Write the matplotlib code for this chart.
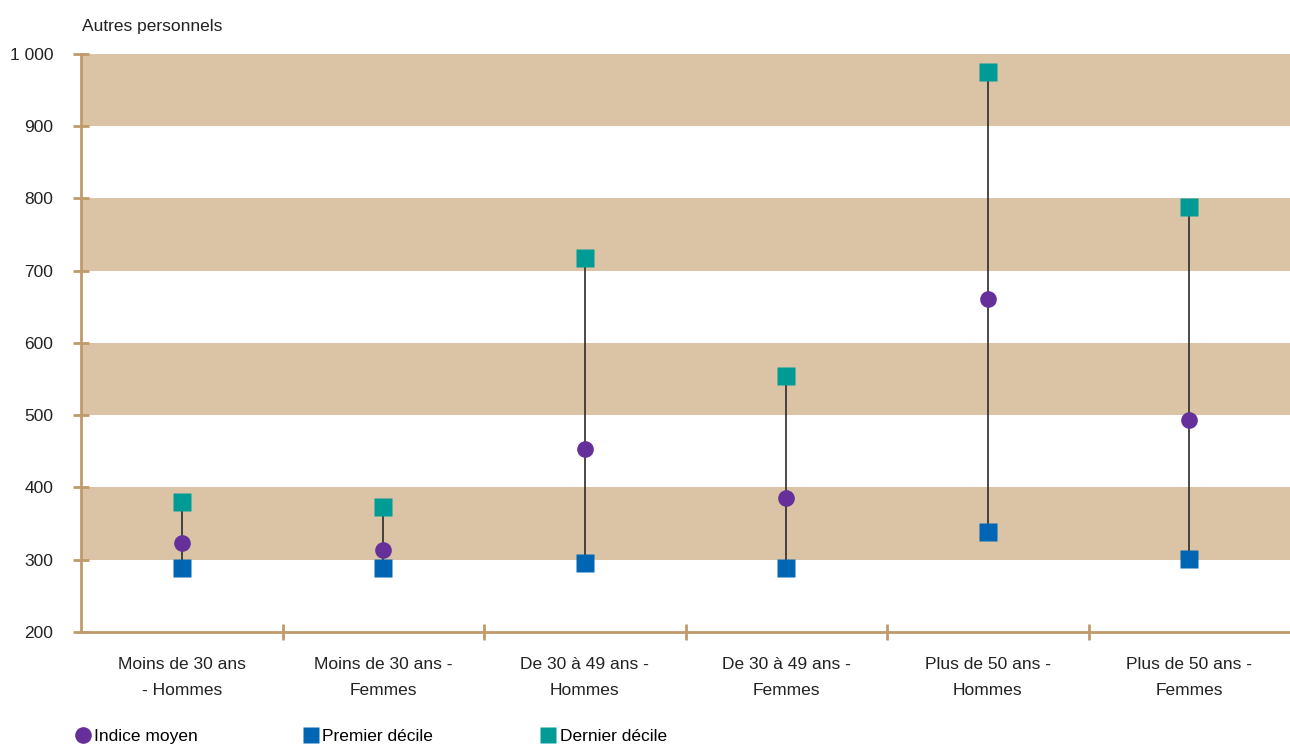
import matplotlib
matplotlib.use("Agg")
import matplotlib.pyplot as plt
from matplotlib.lines import Line2D

plt.rcParams['font.family'] = ['Liberation Sans Narrow', 'Liberation Sans', 'DejaVu Sans']

categories = ["Moins de 30 ans\n- Hommes", "Moins de 30 ans -\nFemmes", "De 30 à 49 ans -\nHommes",
              "De 30 à 49 ans -\nFemmes", "Plus de 50 ans -\nHommes", "Plus de 50 ans -\nFemmes"]
indice_moyen = [323, 313, 453, 385, 661, 493]
premier_decile = [289, 289, 295, 289, 338, 301]
dernier_decile = [380, 373, 718, 554, 975, 788]
yticks = [200, 300, 400, 500, 600, 700, 800, 900, 1000]
ytick_labels = ["200", "300", "400", "500", "600", "700", "800", "900", "1 000"]
bands = [(300, 400), (500, 600), (700, 800), (900, 1000)]

TAN = "#dbc4a5"
AXIS = "#c19a6b"
PURPLE = "#66309a"
BLUE = "#0066b3"
TEAL = "#009b95"

fig = plt.figure(figsize=(12.9, 7.47), dpi=100)
ax = fig.add_axes([0.0628, 0.154, 0.9372, 0.7737])
x = list(range(len(categories)))

for lo, hi in bands:
    ax.axhspan(lo, hi, color=TAN, lw=0, zorder=0)

for i in x:
    ax.plot([i, i], [premier_decile[i], dernier_decile[i]], color="#2b2b2b", lw=1.2, zorder=2)
ax.plot(x, premier_decile, "s", color=BLUE, ms=13, mec="none", zorder=3)
ax.plot(x, dernier_decile, "s", color=TEAL, ms=13.5, mec="none", zorder=3)
ax.plot(x, indice_moyen, "o", color=PURPLE, ms=12, mec="none", zorder=4)

ax.set_xlim(-0.5, 5.5)
ax.set_ylim(200, 1000)
ax.set_yticks(yticks)
ax.set_yticklabels(ytick_labels, fontsize=12.5, color="#222222")
ax.set_xticks([i + 0.5 for i in x[:-1]])
ax.set_xticklabels([])
ax.set_xticks(x, minor=True)
ax.set_xticklabels(categories, minor=True, fontsize=12.5, color="#222222", linespacing=1.95)
ax.tick_params(axis="x", which="minor", length=0, pad=18)
ax.tick_params(axis="both", which="major", direction="inout", length=12, width=2, color=AXIS)
ax.tick_params(axis="y", pad=14)

for s in ["top", "right"]:
    ax.spines[s].set_visible(False)
for s in ["left", "bottom"]:
    ax.spines[s].set_color(AXIS)
    ax.spines[s].set_linewidth(2)
ax.spines["left"].set_zorder(5)

fig.text(0.0635, 0.955, "Autres personnels", fontsize=12.5, color="#222222", ha="left", va="bottom")

handles = [
    Line2D([], [], marker="o", ls="none", color=PURPLE, ms=12, mec="none"),
    Line2D([], [], marker="s", ls="none", color=BLUE, ms=12, mec="none"),
    Line2D([], [], marker="s", ls="none", color=TEAL, ms=12, mec="none"),
]
labels = ["Indice moyen", "Premier décile", "Dernier décile"]
xs = [0.056, 0.233, 0.417]
for h, lab, xp in zip(handles, labels, xs):
    fig.legend([h], [lab], loc="center left", bbox_to_anchor=(xp, 0.014), frameon=False,
               fontsize=12.5, handletextpad=0.05, borderpad=0, borderaxespad=0, handlelength=1.2)

fig.savefig("out.png", dpi=100)
